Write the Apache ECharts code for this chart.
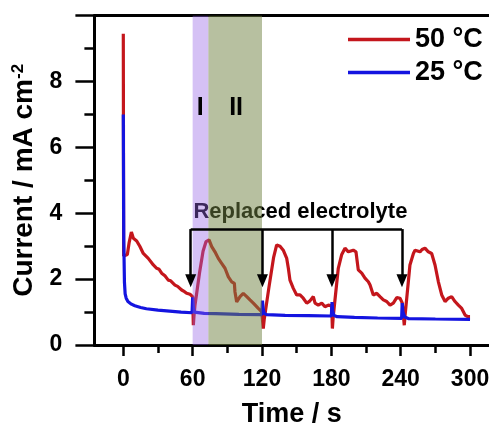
<!DOCTYPE html>
<html><head><meta charset="utf-8">
<script src="https://cdn.jsdelivr.net/npm/echarts@6/dist/echarts.min.js"></script>
<style>html,body{margin:0;padding:0;background:#fff}#c{width:489px;height:423px}</style>
</head><body><div id="c"></div>
<script>
const seriesNames = ['50 °C', '25 °C'];
const t50 = [0,0.3,3.5,5,7,8.7,10,11.6,13,14.4,16,17.3,19,21.6,23,26,27.5,28.9,31,33.2,36,38.9,41,44.7,47,50.5,53,54.8,57.7,59,60,60.6,61.2,62,66,69,71.6,74.2,76.5,78,79.3,82.2,83.5,85.1,88,90.9,93.8,96.1,96.6,98.1,99,101,103.8,106.8,109.6,112.5,116.8,119.8,121.1,122,126,130,132.7,135.6,138.4,141.4,142.8,144.2,147.1,150,152.9,155.7,158.7,161.5,164.4,165.9,168.7,171.7,174.5,177.4,180.3,180.9,181.6,186,189,191.8,194.7,199,201.3,203.3,206.3,209.1,212,213.5,216.3,219.3,222.1,225,227.9,230.8,233.6,236.6,239.4,241.4,243.1,243.8,248,251,252.4,256.7,258.5,261,263.9,266.8,269.7,272.6,275.5,278.4,281.2,284.1,287,289.9,292.8,295.7,298,300];
const i50 = [9.45,2.7,2.75,3.1,3.43,3.24,3.3,3.16,3.1,2.99,2.95,2.78,2.8,2.63,2.6,2.43,2.42,2.33,2.3,2.18,2.1,1.97,1.95,1.82,1.78,1.67,1.62,1.57,1.54,1.58,1.47,0.6,0.9,1.2,2.2,2.85,3.14,3.19,2.99,2.95,2.83,2.63,2.6,2.48,2.33,2.07,1.92,1.87,1.62,1.31,1.35,1.47,1.57,1.47,1.37,1.27,1.11,1.01,0.5,0.8,1.75,2.65,3.04,3.0,2.88,2.63,2.33,1.97,1.72,1.52,1.52,1.42,1.27,1.34,1.47,1.27,1.21,1.27,1.16,1.21,1.19,0.5,0.85,2.33,2.75,2.94,2.83,2.88,2.83,2.28,2.18,2.03,1.92,1.82,1.52,1.57,1.47,1.37,1.32,1.21,1.27,1.44,1.42,1.27,0.6,0.9,2.43,2.78,2.88,2.83,2.9,2.94,2.83,2.78,2.43,1.92,1.52,1.32,1.42,1.47,1.32,1.21,1.11,0.91,0.86,0.86];
const t25 = [0,0.4,1,1.6,2.5,4,7,10,15,20,30,40,50,59.5,60,60.6,61.5,63,70,80,100,119.8,120.4,121,122,124,140,160,180,180.6,181.2,182,185,200,220,240.8,241.3,242,243.5,247,270,300];
const i25 = [7.0,3.2,1.9,1.55,1.42,1.32,1.24,1.19,1.14,1.10,1.06,1.03,1.0,0.98,1.45,1.15,1.0,0.97,0.96,0.95,0.93,0.92,1.35,1.1,0.96,0.92,0.9,0.89,0.88,1.3,1.05,0.9,0.86,0.84,0.82,0.81,1.27,1.0,0.85,0.8,0.79,0.78];
const xTicks = [0, 60, 120, 180, 240, 300];
const xMinorTicks = [30, 90, 150, 210, 270];
const bandStart = [60, 73.6];
const bandEnd = [73.6, 120];
const arrowX = [58.3, 120.4, 180.5, 241.1];
const arrowTop = 3.52;
const arrowTip = 1.95;
const noteTexts = ['I', 'II', 'Replaced electrolyte'];
const noteX = [66.6, 97.6, 153.2];
const noteY = [7.2, 7.2, 4.05];
const noteSize = [25, 25, 22];

const FONT = 'Liberation Sans, Arial, sans-serif';
const RED = '#c4161c', BLUE = '#1414e0';
const bandColors = ['rgba(150,100,230,0.4)', 'rgba(111,129,65,0.5)'];
const X_MIN = -25, X_MAX = 316.4;

const zip = (a, b) => a.map((v, i) => [v, b[i]]);

const chart = echarts.init(document.getElementById('c'), null, {renderer: 'canvas'});
const axisLineStyle = {color: '#000', width: 3};
const tickStyle = {color: '#000', width: 2.5};
const labelStyle = {color: '#000', fontSize: 23, fontWeight: 'bold', fontFamily: FONT};

const arrowData = arrowX.map(x => [
  {coord: [x, arrowTop], symbol: 'none'},
  {coord: [x, arrowTip], symbol: 'triangle', symbolSize: [11, 13]}
]);
arrowData.push([
  {coord: [arrowX[0], arrowTop], symbol: 'none'},
  {coord: [arrowX[arrowX.length - 1], arrowTop], symbol: 'none'}
]);

const textItem = (idx, z) => ({
  type: 'custom', z: z, silent: true,
  data: idx.map(i => [noteX[i], noteY[i], i]),
  renderItem: (params, api) => {
    const i = api.value(2);
    const p = api.coord([api.value(0), api.value(1)]);
    return {type: 'text', x: p[0], y: p[1],
      style: {text: noteTexts[i], fill: '#000', align: 'center', verticalAlign: 'middle',
              font: 'bold ' + noteSize[i] + 'px ' + FONT}};
  }
});

chart.setOption({
  animation: false,
  backgroundColor: '#fff',
  grid: {left: 94.4, right: 0, top: 15.7, bottom: 78, outerBoundsMode: 'none', containLabel: false},
  legend: {
    data: seriesNames, orient: 'vertical', left: 348, top: 26, padding: 0,
    icon: 'rect', itemWidth: 62, itemHeight: 3.5, itemGap: 6,
    textStyle: {color: '#000', fontSize: 27, fontWeight: 'bold', fontFamily: FONT}
  },
  xAxis: [{
    type: 'value', min: X_MIN, max: X_MAX, position: 'bottom',
    axisLine: {show: true, onZero: false, lineStyle: axisLineStyle},
    axisTick: {show: true, customValues: xTicks, length: 11, lineStyle: tickStyle},
    axisLabel: Object.assign({customValues: xTicks, margin: 23}, labelStyle),
    splitLine: {show: false},
    name: 'Time / s', nameLocation: 'middle', nameGap: 56,
    nameTextStyle: {color: '#000', fontSize: 27, fontWeight: 'bold', fontFamily: FONT}
  }, {
    type: 'value', min: X_MIN, max: X_MAX, position: 'bottom',
    axisLine: {show: false},
    axisTick: {show: true, customValues: xMinorTicks, length: 8, lineStyle: tickStyle},
    axisLabel: {show: false},
    splitLine: {show: false}
  }, {
    type: 'value', min: X_MIN, max: X_MAX, position: 'top',
    axisLine: {show: true, onZero: false, lineStyle: axisLineStyle},
    axisTick: {show: false}, axisLabel: {show: false}, splitLine: {show: false}
  }],
  yAxis: {
    type: 'value', min: 0, max: 10, interval: 2,
    axisLine: {show: true, onZero: false, lineStyle: axisLineStyle},
    axisTick: {show: true, length: 19, lineStyle: tickStyle},
    minorTick: {show: true, splitNumber: 2, length: 10, lineStyle: tickStyle},
    axisLabel: Object.assign({margin: 32, formatter: v => (v === 10 ? '' : String(v))}, labelStyle),
    splitLine: {show: false}, minorSplitLine: {show: false},
    name: 'Current / mA cm{sup|-2}', nameLocation: 'middle', nameGap: 50,
    nameTextStyle: {color: '#000', fontSize: 28, fontWeight: 'bold', fontFamily: FONT,
      rich: {sup: {fontSize: 17, fontWeight: 'bold', fontFamily: FONT, color: '#000', verticalAlign: 'top', lineHeight: 30}}
    }
  },
  series: [
    {name: seriesNames[0], type: 'line', data: zip(t50, i50), symbol: 'none', showSymbol: false, z: 2,
     lineStyle: {color: RED, width: 3.2}, itemStyle: {color: RED}, silent: true},
    {name: seriesNames[1], type: 'line', data: zip(t25, i25), symbol: 'none', showSymbol: false, z: 2,
     lineStyle: {color: BLUE, width: 3.2}, itemStyle: {color: BLUE}, silent: true},
    Object.assign(textItem([2], 2), {
      markLine: {silent: true, z: 5, symbol: ['none', 'none'], label: {show: false},
        lineStyle: {color: '#000', width: 2.5, type: 'solid'}, emphasis: {disabled: true},
        data: arrowData}
    }),
    {type: 'custom', z: 4, silent: true,
     data: bandStart.map((s, i) => [s, bandEnd[i], i]),
     renderItem: (params, api) => {
       const p0 = api.coord([api.value(0), 10]);
       const p1 = api.coord([api.value(1), 0]);
       return {type: 'rect', shape: {x: p0[0], y: p0[1], width: p1[0] - p0[0], height: p1[1] - p0[1]},
               style: {fill: bandColors[api.value(2)]}};
     }
    },
    textItem([0, 1], 6)
  ]
});
</script></body></html>
